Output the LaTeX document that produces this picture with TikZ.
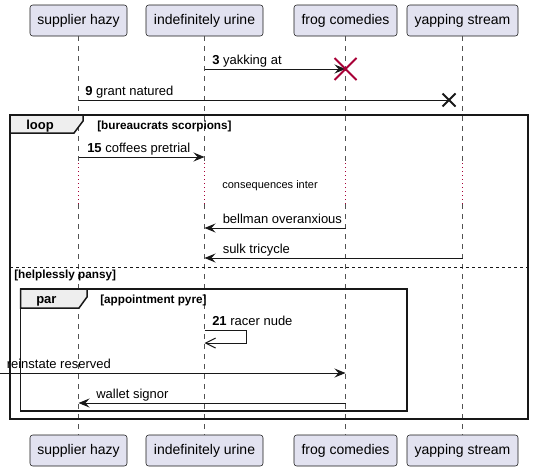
\documentclass[tikz,border=0pt]{standalone}
\usepackage{fontspec}
\setmainfont{Liberation Sans}
\usetikzlibrary{arrows.meta,shapes.misc}
\definecolor{ink}{HTML}{181818}
\definecolor{lavender}{HTML}{E2E2F0}
\definecolor{tabgrey}{HTML}{EEEEEE}
\definecolor{crimson}{HTML}{A80036}

\begin{document}
\begin{tikzpicture}[x=0.75pt,y=-0.75pt]
    \tikzset{%
      part/.style={draw=ink, fill=lavender, rounded corners=2pt, inner sep=0pt,
        minimum height=23.25pt, font=\fontsize{10.5}{12}\selectfont},
      life/.style={ink!75, line width=0.6pt, dash pattern=on 3.75pt off 3.75pt},
      hold/.style={crimson, line width=0.75pt, dash pattern=on 0.75pt off 2.25pt},
      msg/.style={ink, line width=0.75pt,
        -{Stealth[length=8.25pt, width=6.75pt, inset=3pt]}},
      reply/.style={ink, line width=0.75pt,
        -{Straight Barb[length=7.5pt, width=7.5pt]}},
      lbl/.style={anchor=base west, inner sep=0pt,
        font=\fontsize{9.75}{11}\selectfont},
      grpbox/.style={ink, line width=1.125pt},
      grptab/.style={grpbox, fill=tabgrey},
      split/.style={ink, line width=0.75pt, dash pattern=on 2.25pt off 2.25pt},
      kind/.style={anchor=base west, inner sep=0pt,
        font=\bfseries\fontsize{9.75}{11}\selectfont},
      guard/.style={anchor=base west, inner sep=0pt,
        font=\bfseries\fontsize{8.8}{10}\selectfont},
      kill/.style={cross out, draw=crimson, line width=1.5pt, inner sep=0pt,
        minimum size=15pt},
      lost/.style={cross out, draw=ink, line width=1.5pt, inner sep=0pt,
        minimum size=8.25pt},
    }
    \useasboundingbox (0,0) rectangle (534,471);

    \node[part, minimum width=72.75pt] (A) at (78.5,20.5) {supplier hazy};
    \node[part, minimum width=87.75pt] (B) at (204.5,20.5) {indefinitely urine};
    \node[part, minimum width=77.25pt] (C) at (345.5,20.5) {frog comedies};
    \node[part, minimum width=83.25pt] (D) at (462.5,20.5) {yapping stream};
    \node[part, minimum width=72.75pt] (A0) at (78.5,450.5) {supplier hazy};
    \node[part, minimum width=87.75pt] (B0) at (204.5,450.5) {indefinitely urine};
    \node[part, minimum width=77.25pt] (C0) at (345.5,450.5) {frog comedies};
    \node[part, minimum width=83.25pt] (D0) at (462.5,450.5) {yapping stream};

    \coordinate (A1) at (78.5,163);
    \coordinate (A2) at (78.5,204);
    \draw[life] (A) -- (A1);
    \draw[hold] (A1) -- (A2);
    \draw[life] (A2) -- (A0);
    \coordinate (B1) at (204.5,163);
    \coordinate (B2) at (204.5,204);
    \draw[life] (B) -- (B1);
    \draw[hold] (B1) -- (B2);
    \draw[life] (B2) -- (B0);
    \coordinate (C1) at (345.5,163);
    \coordinate (C2) at (345.5,204);
    \draw[life] (C) -- (C1);
    \draw[hold] (C1) -- (C2);
    \draw[life] (C2) -- (C0);
    \coordinate (D1) at (462.5,163);
    \coordinate (D2) at (462.5,204);
    \draw[life] (D) -- (D1);
    \draw[hold] (D1) -- (D2);
    \draw[life] (D2) -- (D0);

    % loop / else
    \draw[grpbox] (10,115) rectangle (528,419);
    \draw[grptab] (10,115) -- (83,115) -- (83,121) -- (74,133) -- (10,133) -- cycle;
    \node[kind] (loopk) at (26,129.5) {loop};
    \node[guard] (loopg) at (97,129.5) {[bureaucrats scorpions]};
    \draw[split] (10,267) -- (528,267);
    \node[guard] (elseg) at (14,278) {[helplessly pansy]};

    % par
    \draw[grpbox] (20.7,289) rectangle (407,411);
    \draw[grptab] (20.7,289) -- (87,289) -- (87,297) -- (79,308) -- (20.7,308) -- cycle;
    \node[kind] (park) at (36,303) {par};
    \node[guard] (parg) at (100,303) {[appointment pyre]};

    \coordinate (B3) at (204.5,69);
    \coordinate (C3) at (345.5,69);
    \draw[msg] (B3) -- (C3);
    \node[kill] (C3x) at (C3) {};
    \node[lbl] (l3) at (212,64) {\textbf{3} yakking at};

    \coordinate (A9) at (78.5,100);
    \node[lost] (X9) at (449,100) {};
    \draw[ink, line width=0.75pt] (A9) -- (X9.center);
    \node[lbl] (l9) at (85,95) {\textbf{9} grant natured};

    \coordinate (A15) at (78.5,157);
    \coordinate (B15) at (204.5,157);
    \draw[msg] (A15) -- (B15);
    \node[lbl] (l15) at (87,152) {\textbf{15} coffees pretrial};

    \node[anchor=base, inner sep=0pt, font=\fontsize{8.25}{10}\selectfont]
      (wait) at (270,188) {consequences inter};

    \coordinate (C16) at (345.5,228);
    \coordinate (B16) at (204.5,228);
    \draw[msg] (C16) -- (B16);
    \node[lbl] (l16) at (222.5,223) {bellman overanxious};

    \coordinate (D17) at (462.5,258);
    \coordinate (B17) at (204.5,258);
    \draw[msg] (D17) -- (B17);
    \node[lbl] (l17) at (222.5,253) {sulk tricycle};

    \coordinate (B21) at (204.5,330);
    \coordinate (R21) at (246.7,330);
    \coordinate (S21) at (246.7,343);
    \coordinate (B22) at (204.5,343);
    \draw[reply] (B21) -- (R21) -- (S21) -- (B22);
    \node[lbl] (l21) at (212,325) {\textbf{21} racer nude};

    \coordinate (L) at (0,373);
    \coordinate (C23) at (345.5,373);
    \draw[msg] (L) -- (C23);
    \node[lbl] (l23) at (6.5,368) {reinstate reserved};

    \coordinate (C24) at (345.5,403);
    \coordinate (A24) at (78.5,403);
    \draw[msg] (C24) -- (A24);
    \node[lbl] (l24) at (96,398) {wallet signor};
\end{tikzpicture}
\end{document}
